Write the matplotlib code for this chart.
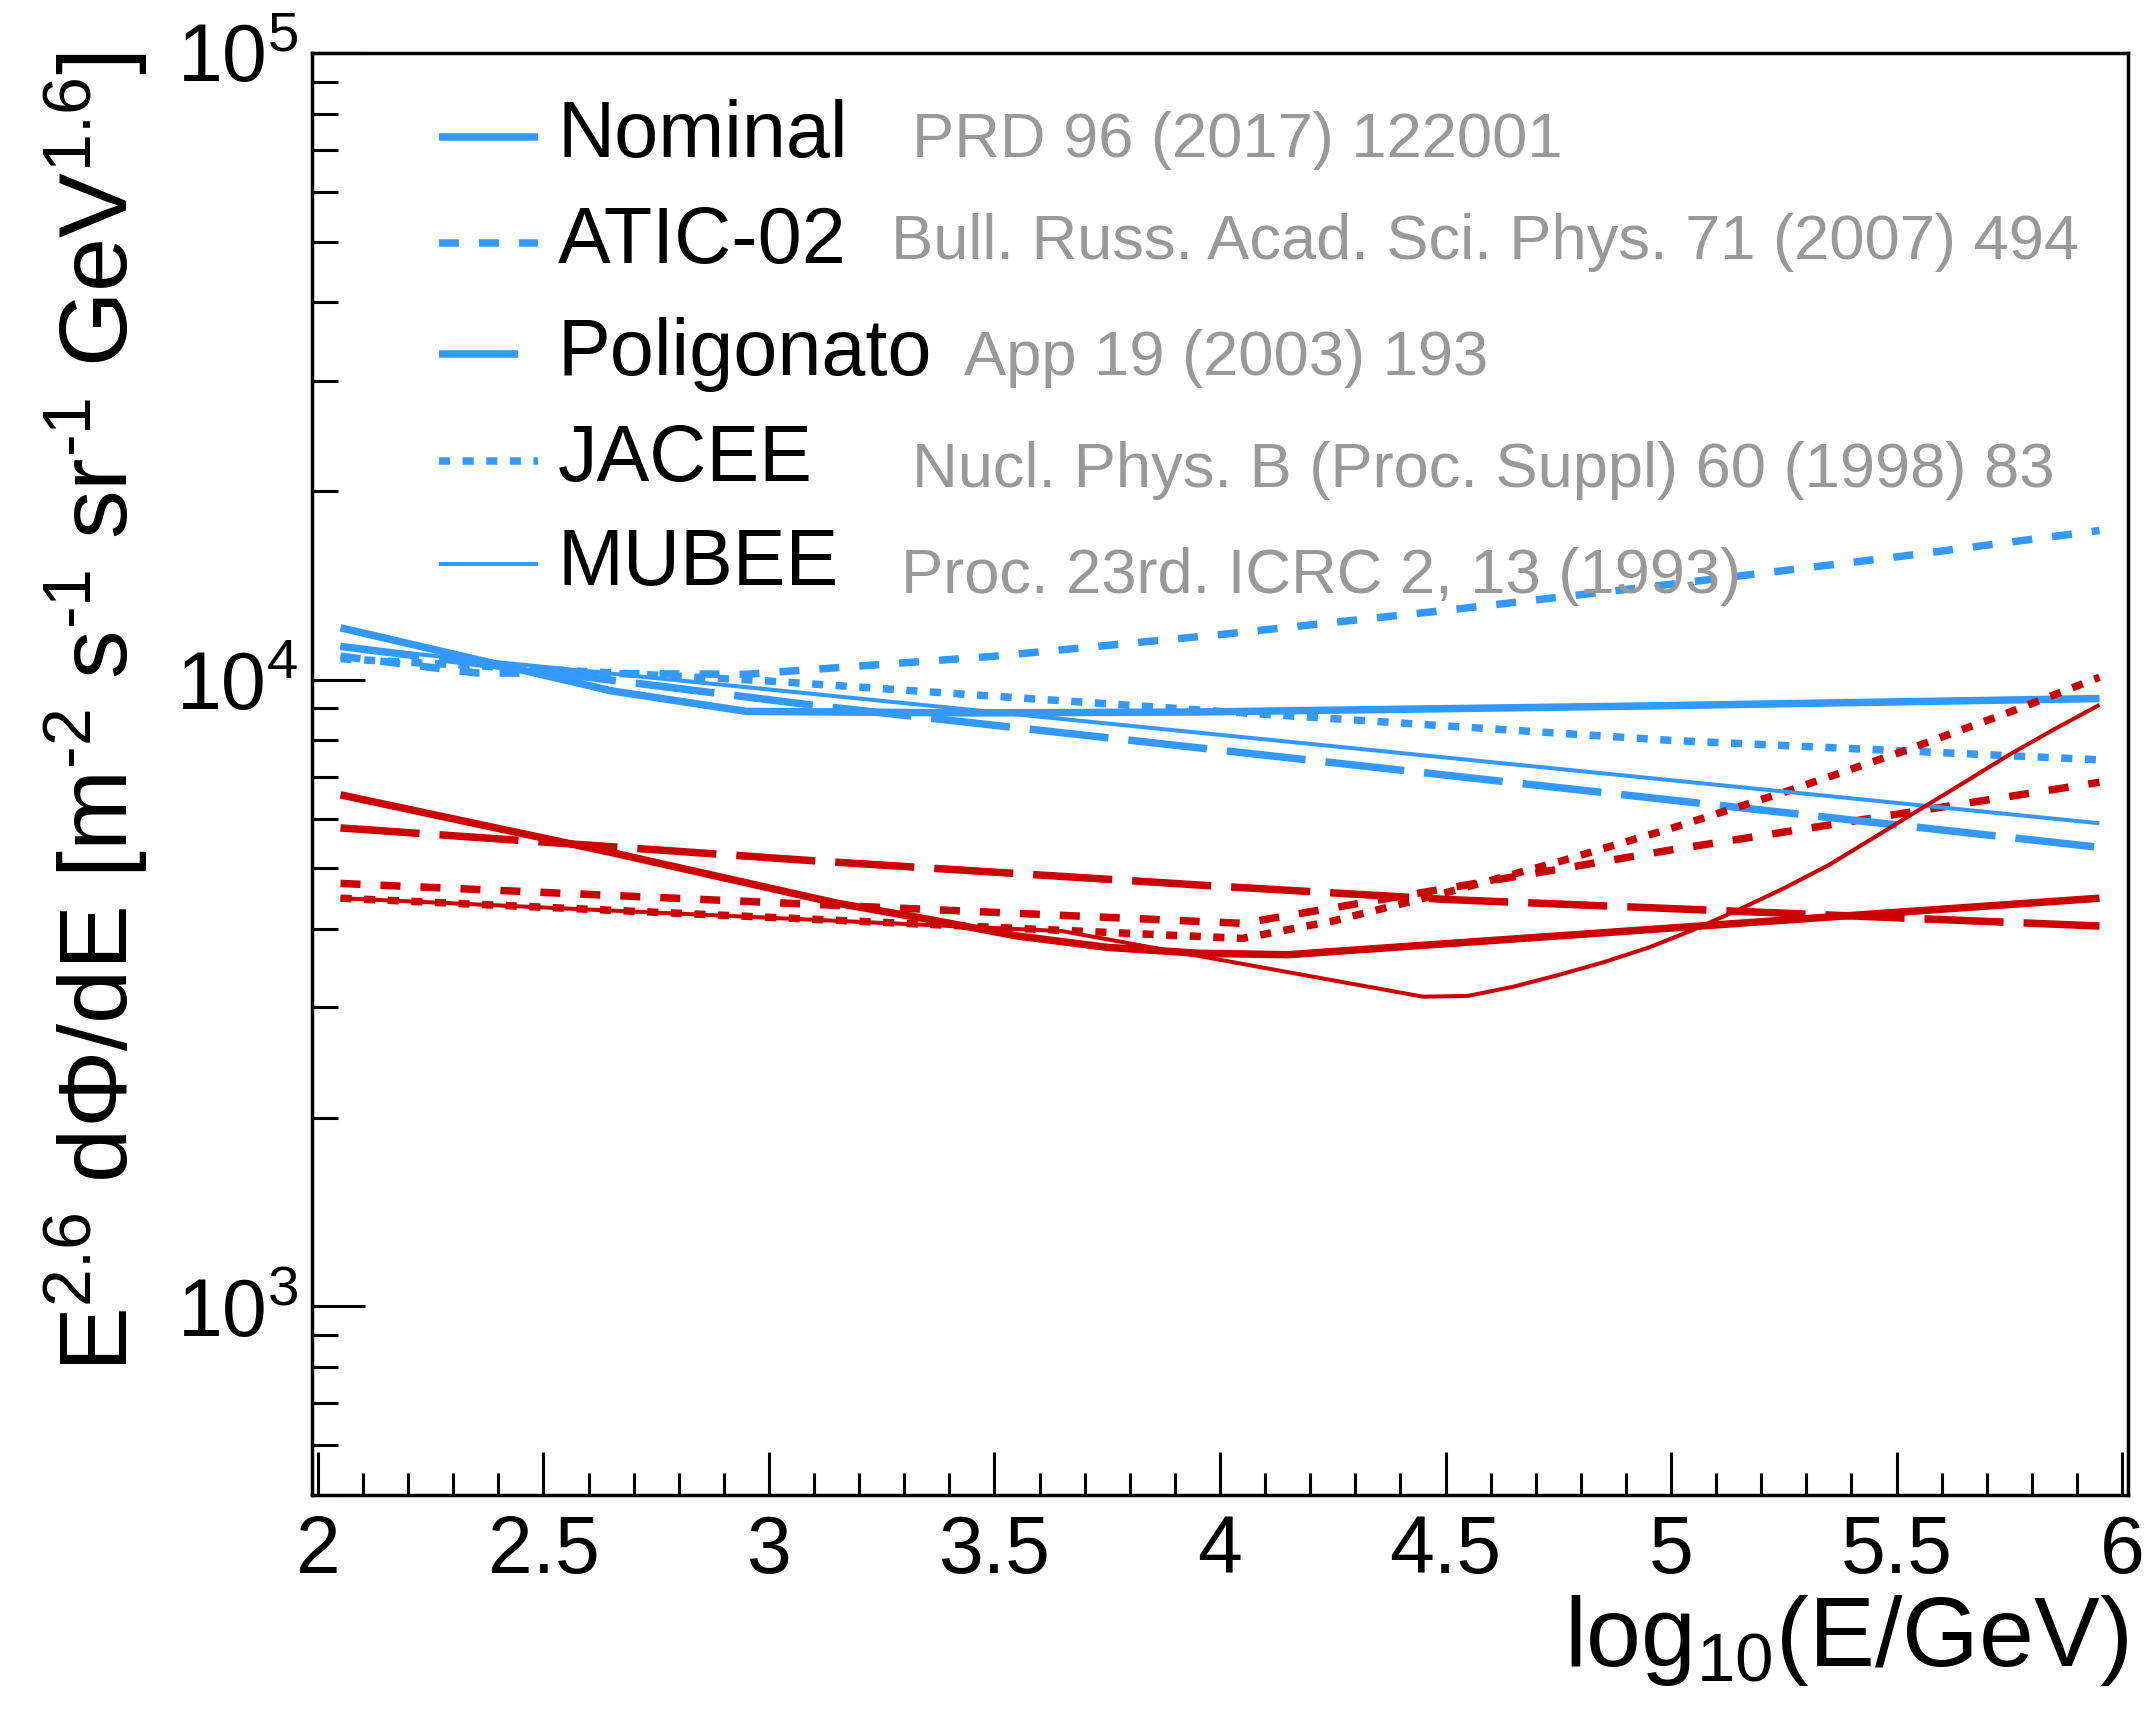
import matplotlib
matplotlib.use("Agg")
import matplotlib.pyplot as plt
from matplotlib.ticker import LogLocator, NullFormatter, FixedLocator

plt.rcParams['font.family'] = ['Liberation Sans', 'DejaVu Sans']
plt.rcParams['mathtext.fontset'] = 'custom'
plt.rcParams['mathtext.rm'] = 'Liberation Sans'
plt.rcParams['mathtext.it'] = 'Liberation Sans:italic'
plt.rcParams['mathtext.bf'] = 'Liberation Sans:bold'
plt.rcParams['mathtext.sf'] = 'Liberation Sans'
plt.rcParams['lines.scale_dashes'] = False

# ---------------- data ----------------
models = ['Nominal', 'ATIC-02', 'Poligonato', 'JACEE', 'MUBEE']
references = ['PRD 96 (2017) 122001',
              'Bull. Russ. Acad. Sci. Phys. 71 (2007) 494',
              'App 19 (2003) 193',
              'Nucl. Phys. B (Proc. Suppl) 60 (1998) 83',
              'Proc. 23rd. ICRC 2, 13 (1993)']
x_ticks = [2, 2.5, 3, 3.5, 4, 4.5, 5, 5.5, 6]
x_ticklabels = ['2', '2.5', '3', '3.5', '4', '4.5', '5', '5.5', '6']

# upper (blue) component, E^2.6 dPhi/dE
blue_nominal_x = [2.05, 2.65, 2.95, 3.45, 3.95, 4.95, 5.95]
blue_nominal_y = [12100, 9600, 8900, 8850, 8880, 9080, 9330]
blue_atic_x = [2.05, 2.35, 2.95, 3.5, 4.0, 4.5, 5.0, 5.5, 5.95]
blue_atic_y = [10900, 10250, 10200, 10900, 11800, 12900, 14200, 15700, 17300]
blue_poli_x = [2.05, 3.1, 5.95]
blue_poli_y = [11300, 9100, 5400]
blue_jacee_x = [2.05, 3.0, 4.0, 5.0, 5.95]
blue_jacee_y = [10800, 9950, 8900, 8000, 7450]
blue_mubee_x = [2.05, 5.95]
blue_mubee_y = [11300, 5900]

# lower (red) component
red_nominal_x = [2.05, 2.65, 3.15, 3.35, 3.55, 3.75, 3.95, 4.15, 5.95]
red_nominal_y = [6550, 5300, 4400, 4150, 3900, 3740, 3660, 3640, 4480]
red_atic_x = [2.05, 4.05, 5.0, 5.95]
red_atic_y = [4730, 4085, 5350, 6860]
red_poli_x = [2.05, 3.1, 4.0, 4.5, 5.95]
red_poli_y = [5800, 5140, 4680, 4460, 4045]
red_jacee_x = [2.05, 4.05, 4.25, 4.5, 4.75, 5.0, 5.25, 5.5, 5.75, 5.95]
red_jacee_y = [4480, 3865, 4120, 4570, 5120, 5790, 6610, 7620, 8870, 10090]
red_mubee_x = [2.05, 3.65, 4.45, 4.55, 4.65, 4.75, 4.85, 4.95, 5.05, 5.15,
               5.25, 5.35, 5.45, 5.55, 5.65, 5.75, 5.85, 5.95]
red_mubee_y = [4480, 3970, 3120, 3129, 3236, 3378, 3540, 3736, 3990, 4295,
               4645, 5062, 5598, 6197, 6855, 7590, 8337, 9116]

# ---------------- style ----------------
BLUE = '#3399ff'
RED = '#cc0000'
GREY = '#999999'
W, H = 2150, 1728
thick, thin = 5.4, 2.9
styles = {
    'Nominal': dict(lw=thick, ls='-'),
    'ATIC-02': dict(lw=thick, dashes=(14.4, 14.4)),
    'Poligonato': dict(lw=thick, dashes=(57, 14.4)),
    'JACEE': dict(lw=thick, dashes=(8, 9)),
    'MUBEE': dict(lw=thin, ls='-'),
}

fig = plt.figure(figsize=(W / 100, H / 100), dpi=100)
ax = fig.add_axes([312 / W, 1 - 1495 / H, (2128 - 312) / W, (1495 - 53) / H])

series = [
    ('Nominal', blue_nominal_x, blue_nominal_y, red_nominal_x, red_nominal_y),
    ('ATIC-02', blue_atic_x, blue_atic_y, red_atic_x, red_atic_y),
    ('Poligonato', blue_poli_x, blue_poli_y, red_poli_x, red_poli_y),
    ('JACEE', blue_jacee_x, blue_jacee_y, red_jacee_x, red_jacee_y),
    ('MUBEE', blue_mubee_x, blue_mubee_y, red_mubee_x, red_mubee_y),
]
for name, bx, by, rx, ry in series:
    st = styles[name]
    ax.plot(bx, by, color=BLUE, solid_capstyle='butt', dash_capstyle='butt',
            solid_joinstyle='round', **st)
    ax.plot(rx, ry, color=RED, solid_capstyle='butt', dash_capstyle='butt',
            solid_joinstyle='round', **st)

ax.set_yscale('log')
ax.set_xlim(1.9867, 6.0133)
ax.set_ylim(500, 1e5)

ax.xaxis.set_major_locator(FixedLocator(x_ticks))
ax.xaxis.set_minor_locator(FixedLocator([2 + 0.1 * i for i in range(41)]))
ax.set_xticklabels(x_ticklabels)
ax.yaxis.set_major_locator(LogLocator(base=10, numticks=10))
ax.yaxis.set_minor_locator(LogLocator(base=10, subs=range(2, 10), numticks=20))
ax.yaxis.set_minor_formatter(NullFormatter())

ax.tick_params(axis='both', which='both', direction='in', top=False, right=False, width=2.2)
ax.tick_params(axis='x', which='major', length=31, labelsize=58, pad=14)
ax.tick_params(axis='x', which='minor', length=16)
ax.tick_params(axis='y', which='major', length=38, labelsize=58, pad=10)
ax.tick_params(axis='y', which='minor', length=19)
for s in ax.spines.values():
    s.set_linewidth(2.5)

# axis titles
fig.text(2128 / W, 1 - 1640 / H, r'$\mathrm{log_{10}(E/GeV)}$', ha='right', va='center', fontsize=71)
fig.text(96 / W, 1 - 52 / H,
         '$\\mathrm{E^{2.6}\\ d\\Phi/dE\\ [m^{\u20102}\\ s^{\u20101}\\ sr^{\u20101}\\ GeV^{1.6}]}$',
         ha='center', va='top', rotation=90, fontsize=70)

# legend (real lines + texts)
row_y = [137, 243, 354, 461, 564]
ref_x = [912, 891, 964, 912, 901]
ref_y = [140, 243, 358, 470, 577]
for i, name in enumerate(models):
    yf = 1 - row_y[i] / H
    st = styles[name]
    x0, x1 = 439 / W, 538 / W
    fig.add_artist(plt.Line2D([x0, x1], [yf, yf], color=BLUE, solid_capstyle='butt',
                              dash_capstyle='butt', transform=fig.transFigure, **st))
    fig.text(558 / W, yf, name, ha='left', va='center', fontsize=57)
    fig.text(ref_x[i] / W, 1 - ref_y[i] / H, references[i], ha='left', va='center',
             fontsize=45.5, color=GREY)

fig.savefig('out.png', dpi=100)
